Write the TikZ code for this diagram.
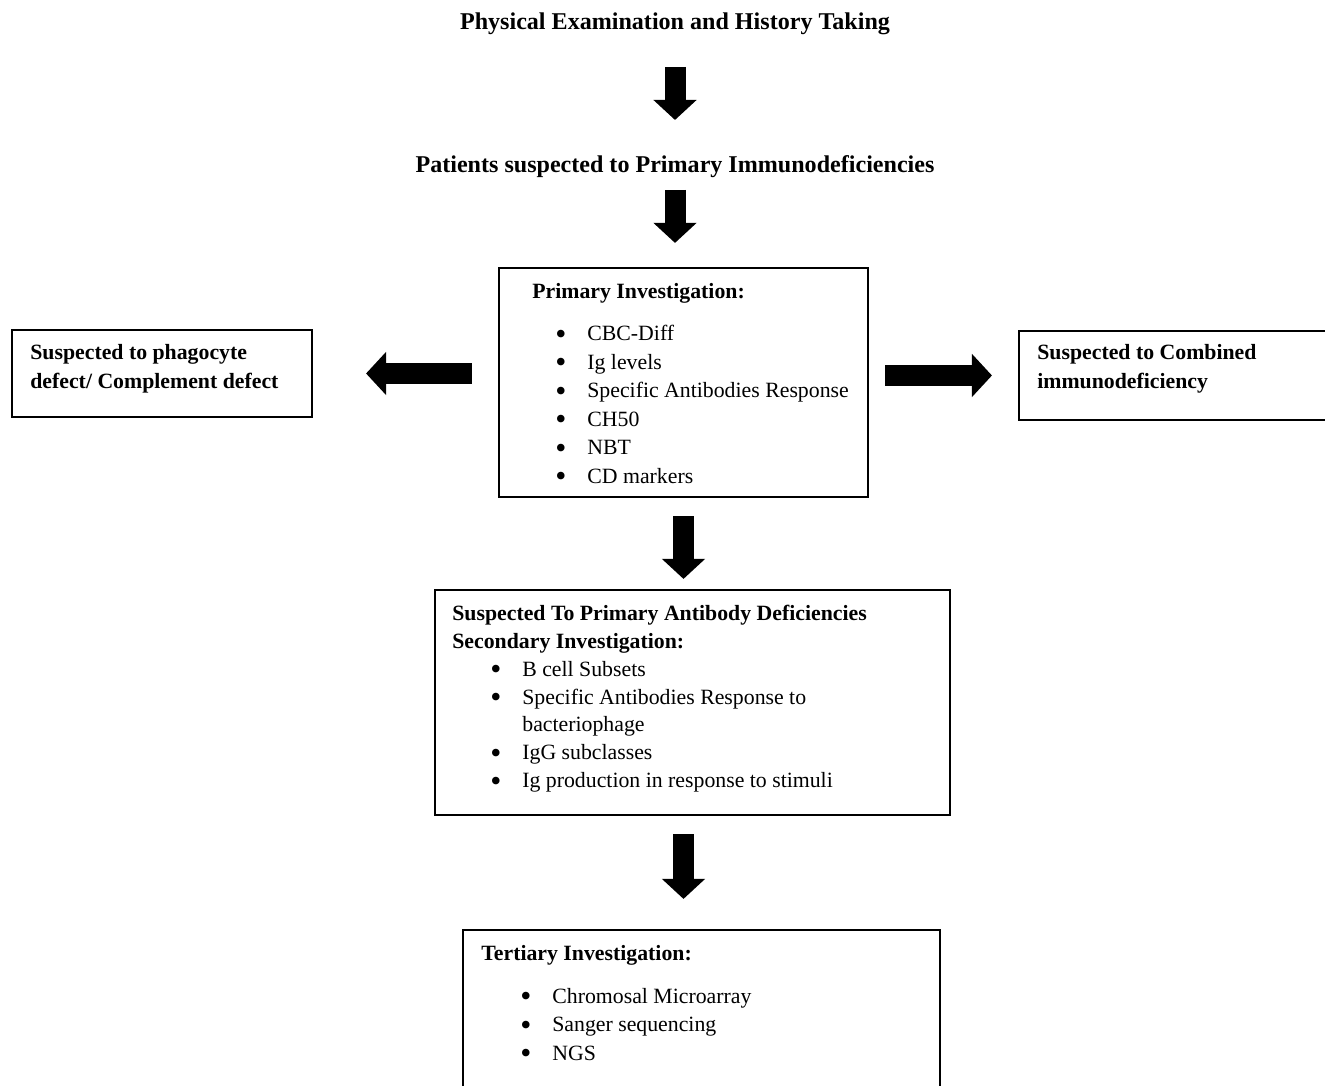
\documentclass[tikz,border=0pt]{standalone}
\usepackage{fontspec}
\setmainfont{Liberation Serif}
\usetikzlibrary{positioning, shapes.geometric, arrows.meta}

\newcommand{\bitem}[2]{\hspace*{#1}\makebox[0.64cm][l]{\smash{\raisebox{-1.9pt}{\scalebox{1.45}{\textbullet}}}}#2}

\tikzset{
  box/.style={draw, line width=1.2pt, inner sep=0pt},
  txt/.style={anchor=north west, align=left, inner sep=0pt,
    font=\fontsize{12.4}{16.2}\selectfont},
  head/.style={font=\fontsize{13.7}{16}\selectfont\bfseries},
  fat/.style={line width=0.42cm, -{Triangle[width=0.84cm,length=0.4cm]}}
}

\begin{document}
\begin{tikzpicture}
  \useasboundingbox (0,0) rectangle (26.5,21.72);

  \draw (13.5,21.25) node[head] (title) {Physical Examination and History Taking};
  \draw (13.5,18.39) node[head] (patients) {Patients suspected to Primary Immunodeficiencies};

  % boxes
  \draw (13.67,14.07) node[box, minimum width=7.38cm, minimum height=4.58cm] (prim) {};
  \draw (3.24,14.25) node[box, minimum width=6.0cm, minimum height=1.74cm] (left) {};
  \draw (23.49,14.21) node[box, minimum width=6.22cm, minimum height=1.78cm] (right) {};
  \draw (13.85,7.67) node[box, minimum width=10.3cm, minimum height=4.5cm] (sec) {};
  \draw (14.03,1.5) node[box, minimum width=9.54cm, minimum height=3.24cm] (tert) {};

  % box texts
  \draw (10.64,16.06) node[txt] (primtxt) {\textbf{Primary Investigation:}\\[0.28cm]
    \bitem{0.46cm}{CBC-Diff}\\
    \bitem{0.46cm}{Ig levels}\\
    \bitem{0.46cm}{Specific Antibodies Response}\\
    \bitem{0.46cm}{CH50}\\
    \bitem{0.46cm}{NBT}\\
    \bitem{0.46cm}{CD markers}};
  \draw (0.6,14.83) node[txt] (lefttxt) {\textbf{Suspected to phagocyte}\\
    \textbf{defect/ Complement defect}};
  \draw (20.74,14.83) node[txt] (righttxt) {\textbf{Suspected to Combined}\\
    \textbf{immunodeficiency}};
  \draw (9.04,9.63) node[txt, font=\fontsize{12.4}{15.9}\selectfont] (sectxt) {\textbf{Suspected To Primary Antibody Deficiencies}\\
    \textbf{Secondary Investigation:}\\
    \bitem{0.76cm}{B cell Subsets}\\
    \bitem{0.76cm}{Specific Antibodies Response to}\\
    \hspace*{1.40cm}bacteriophage\\
    \bitem{0.76cm}{IgG subclasses}\\
    \bitem{0.76cm}{Ig production in response to stimuli}};
  \draw (9.62,2.81) node[txt] (terttxt) {\textbf{Tertiary Investigation:}\\[0.28cm]
    \bitem{0.78cm}{Chromosal Microarray}\\
    \bitem{0.78cm}{Sanger sequencing}\\
    \bitem{0.78cm}{NGS}};

  % block arrows
  \draw[fat, shorten <=0.87cm, shorten >=0.93cm] (title.center) -- (patients.center);
  \draw[fat, shorten <=0.47cm, shorten >=0.48cm] (patients.center) -- (patients |- prim.north);
  \draw[fat, shorten <=0.52cm, shorten >=1.06cm] (left.east -| prim.west) -- (left.east);
  \draw[fat, shorten <=0.32cm, shorten >=0.52cm] (right.west -| prim.east) -- (right.west);
  \draw[fat, shorten <=0.36cm, shorten >=0.2cm] (prim.south) -- (prim.south |- sec.north);
  \draw[fat, shorten <=0.36cm, shorten >=0.6cm] (prim.south |- sec.south) -- (prim.south |- tert.north);

\end{tikzpicture}
\end{document}
